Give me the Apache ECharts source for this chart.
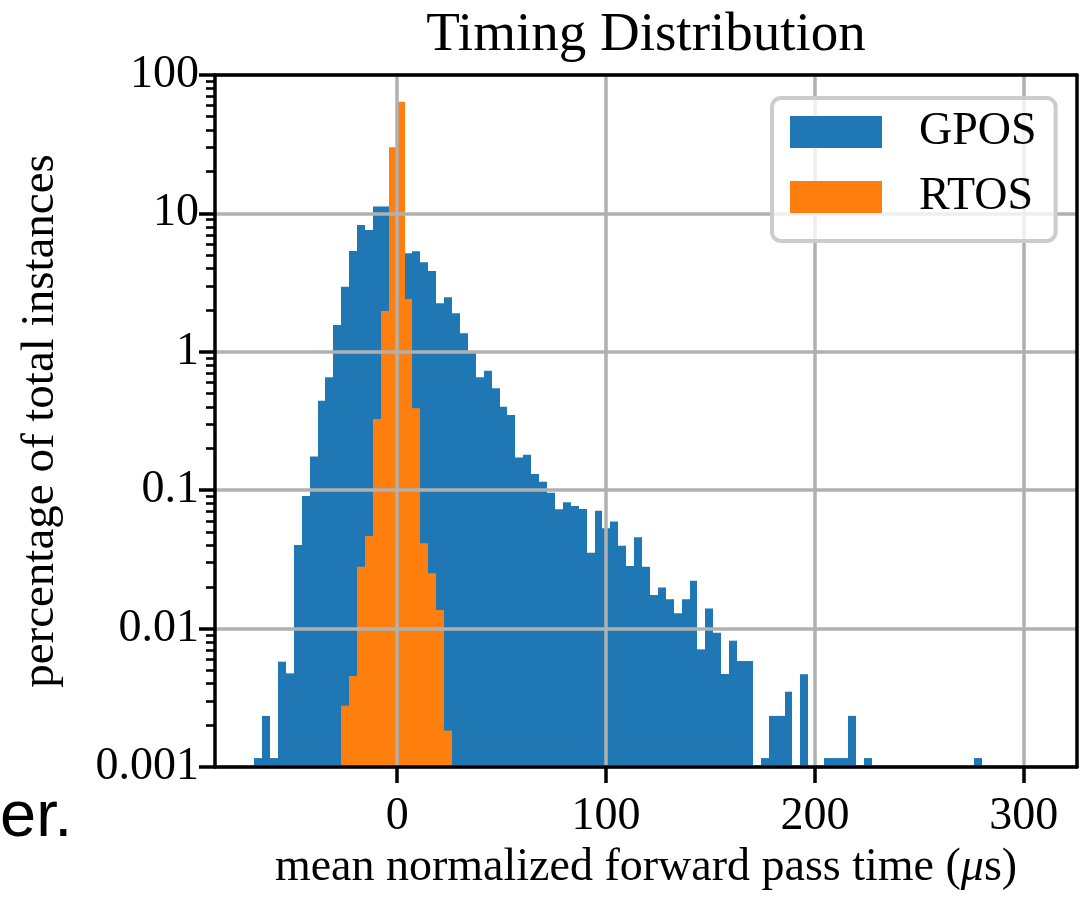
<!DOCTYPE html>
<html>
<head>
<meta charset="utf-8">
<script src="https://cdn.jsdelivr.net/npm/echarts@6/dist/echarts.min.js"></script>
<style>
  html, body { margin: 0; padding: 0; background: #ffffff; }
  #chart { width: 1089px; height: 900px; }
</style>
</head>
<body>
<div id="chart"></div>
<script>
// Histogram of mean normalized forward pass times, in percent of all instances.
const seriesNames = ['GPOS', 'RTOS'];
const binRange = [-68.5, 306.71];   // µs, shared bin range of both histograms
const binCount = 99;

const gposPercent = [
  0.00116, 0.00234, 0.00116, 0.00577, 0.00475, 0.0402, 0.0908, 0.175, 0.443, 0.654,
  1.56, 2.95, 5.35, 8.25, 7.59, 11.2, 11.2, 10.4, 8.1, 5.15,
  5.33, 4.43, 3.84, 2.24, 2.48, 1.90, 1.36, 0.98, 0.654, 0.73,
  0.545, 0.40, 0.349, 0.172, 0.18, 0.131, 0.115, 0.096, 0.0728, 0.0818,
  0.0769, 0.0731, 0.0353, 0.0711, 0.053, 0.0593, 0.0397, 0.0283, 0.0457, 0.028,
  0.0175, 0.0198, 0.0163, 0.0129, 0.0163, 0.0222, 0.00708, 0.014, 0.00934, 0.0047,
  0.00818, 0.00583, 0.00583, 0, 0.00116, 0.00234, 0.00234, 0.0035, 0, 0.00468,
  0, 0, 0.00116, 0.00116, 0.00116, 0.00234, 0, 0.00116, 0, 0,
  0, 0, 0, 0, 0, 0, 0, 0, 0, 0,
  0, 0.00116, 0, 0, 0, 0, 0, 0, 0
];

const rtosPercent = [
  0, 0, 0, 0, 0, 0, 0, 0, 0, 0,
  0, 0.00277, 0.00454, 0.028, 0.0467, 0.327, 1.97, 30.0, 64.2, 2.41,
  0.391, 0.0413, 0.0251, 0.0136, 0.00183, 0, 0, 0, 0, 0,
  0, 0, 0, 0, 0, 0, 0, 0, 0, 0,
  0, 0, 0, 0, 0, 0, 0, 0, 0, 0,
  0, 0, 0, 0, 0, 0, 0, 0, 0, 0,
  0, 0, 0, 0, 0, 0, 0, 0, 0, 0,
  0, 0, 0, 0, 0, 0, 0, 0, 0, 0,
  0, 0, 0, 0, 0, 0, 0, 0, 0, 0,
  0, 0, 0, 0, 0, 0, 0, 0, 0
];

const xTickValues = [0, 100, 200, 300];
const yTickValues = [0.001, 0.01, 0.1, 1, 10, 100];
const yTickLabels = ['0.001', '0.01', '0.1', '1', '10', '100'];

const COLORS = ['#1f77b4', '#ff7f0e'];
const SERIF = '"Liberation Serif", "Times New Roman", Times, serif';
const GRID_GRAY = '#b0b0b0';
const TICK_FONT = 46;
const X_LABEL_FONT = 46;
const Y_LABEL_FONT = 47;

// bin edges and axis limits (5% padding on each side of the data range)
const binWidth = (binRange[1] - binRange[0]) / binCount;
const span = binRange[1] - binRange[0];
const xMin = binRange[0] - 0.05 * span;
const xMax = binRange[1] + 0.05 * span;
const yMin = yTickValues[0];
const yMax = yTickValues[yTickValues.length - 1];

// minor log ticks 2..9 within each decade
const yMinorTicks = [];
for (let d = 0; d < yTickValues.length - 1; d++) {
  for (let k = 2; k <= 9; k++) yMinorTicks.push(k * yTickValues[d]);
}

function histData(values) {
  const out = [];
  values.forEach((v, i) => {
    if (v > 0) out.push([binRange[0] + i * binWidth, binRange[0] + (i + 1) * binWidth, v]);
  });
  return out;
}

function renderBin(params, api) {
  const top = api.coord([api.value(0), api.value(2)]);
  const base = api.coord([api.value(1), yMin]);
  const x0 = Math.round(top[0]);
  const x1 = Math.round(base[0]);
  return {
    type: 'rect',
    shape: { x: x0, y: top[1], width: x1 - x0, height: base[1] - top[1] },
    style: { fill: api.visual('color') }
  };
}

const chart = echarts.init(document.getElementById('chart'), null, { renderer: 'canvas' });

const blackLine = { color: '#000000', width: 3.5 };

const option = {
  animation: false,
  backgroundColor: '#ffffff',
  grid: { left: 215, right: 12, top: 75, bottom: 133, containLabel: false, outerBoundsMode: 'none' },
  graphic: [
    {
      type: 'text', x: 646, y: 8, z: 20,
      style: {
        text: 'Timing Distribution', fill: '#000000',
        font: '55px ' + SERIF, align: 'center', textAlign: 'center',
        verticalAlign: 'top', textVerticalAlign: 'top'
      }
    },
    {
      type: 'text', x: 0, y: 851, z: 20,
      style: {
        text: 'er.', fill: '#000000',
        font: '65px "Liberation Sans", Arial, sans-serif', align: 'left', textAlign: 'left',
        verticalAlign: 'bottom', textVerticalAlign: 'bottom'
      }
    }
  ],
  legend: {
    data: seriesNames,
    orient: 'vertical',
    left: 772,
    top: 98,
    icon: 'rect',
    itemWidth: 92,
    itemHeight: 32,
    itemGap: 19,
    padding: [11, 19, 21, 18],
    backgroundColor: 'rgba(255,255,255,0.8)',
    borderColor: '#cccccc',
    borderWidth: 4,
    borderRadius: 9,
    selectedMode: false,
    z: 10,
    textStyle: {
      fontFamily: SERIF, fontSize: TICK_FONT, color: '#000000', lineHeight: 46,
      padding: [0, 0, 0, 32]
    }
  },
  xAxis: [
    {
      type: 'value', position: 'bottom', min: xMin, max: xMax, z: 3,
      axisLine: { show: true, onZero: false, lineStyle: blackLine },
      axisTick: { show: true, customValues: xTickValues, length: 16, lineStyle: blackLine },
      axisLabel: {
        show: true, customValues: xTickValues, margin: 27,
        fontFamily: SERIF, fontSize: TICK_FONT, color: '#000000'
      },
      splitLine: { show: true, lineStyle: { color: GRID_GRAY, width: 3.5 } },
      name: 'mean normalized forward pass time ({it|μ}s)',
      nameLocation: 'middle',
      nameGap: 77,
      nameTextStyle: {
        fontFamily: SERIF, fontSize: X_LABEL_FONT, color: '#000000',
        rich: { it: { fontFamily: SERIF, fontSize: X_LABEL_FONT, fontStyle: 'italic', color: '#000000' } }
      }
    },
    {
      type: 'value', position: 'top', min: xMin, max: xMax, z: 3,
      axisLine: { show: true, onZero: false, lineStyle: blackLine },
      axisTick: { show: false }, axisLabel: { show: false }, splitLine: { show: false }
    }
  ],
  yAxis: [
    {
      type: 'log', logBase: 10, position: 'left', min: yMin, max: yMax, z: 3,
      axisLine: { show: true, onZero: false, lineStyle: blackLine },
      axisTick: { show: true, length: 16, lineStyle: blackLine },
      axisLabel: {
        show: true, margin: 16, fontFamily: SERIF, fontSize: TICK_FONT, color: '#000000',
        formatter: (v) => {
          const i = Math.round(Math.log10(v)) - Math.round(Math.log10(yMin));
          return yTickLabels[i] !== undefined ? yTickLabels[i] : '';
        }
      },
      splitLine: { show: true, lineStyle: { color: GRID_GRAY, width: 3.5 } },
      name: 'percentage of total instances',
      nameLocation: 'middle',
      nameGap: 151,
      nameTextStyle: { fontFamily: SERIF, fontSize: Y_LABEL_FONT, color: '#000000' }
    },
    {
      type: 'log', logBase: 10, position: 'left', min: yMin, max: yMax, z: 3,
      axisLine: { show: false, onZero: false },
      axisTick: { show: true, customValues: yMinorTicks, length: 9, lineStyle: { color: '#000000', width: 2.6 } },
      axisLabel: { show: false }, splitLine: { show: false }
    },
    {
      type: 'log', logBase: 10, position: 'right', min: yMin, max: yMax, z: 3,
      axisLine: { show: true, onZero: false, lineStyle: blackLine },
      axisTick: { show: false }, axisLabel: { show: false }, splitLine: { show: false }
    }
  ],
  series: [
    {
      name: seriesNames[0], type: 'custom', xAxisIndex: 0, yAxisIndex: 0, z: 2,
      itemStyle: { color: COLORS[0] },
      encode: { x: [0, 1], y: 2 },
      data: histData(gposPercent),
      renderItem: renderBin
    },
    {
      name: seriesNames[1], type: 'custom', xAxisIndex: 0, yAxisIndex: 0, z: 2,
      itemStyle: { color: COLORS[1] },
      encode: { x: [0, 1], y: 2 },
      data: histData(rtosPercent),
      renderItem: renderBin
    }
  ]
};

chart.setOption(option);
</script>
</body>
</html>
